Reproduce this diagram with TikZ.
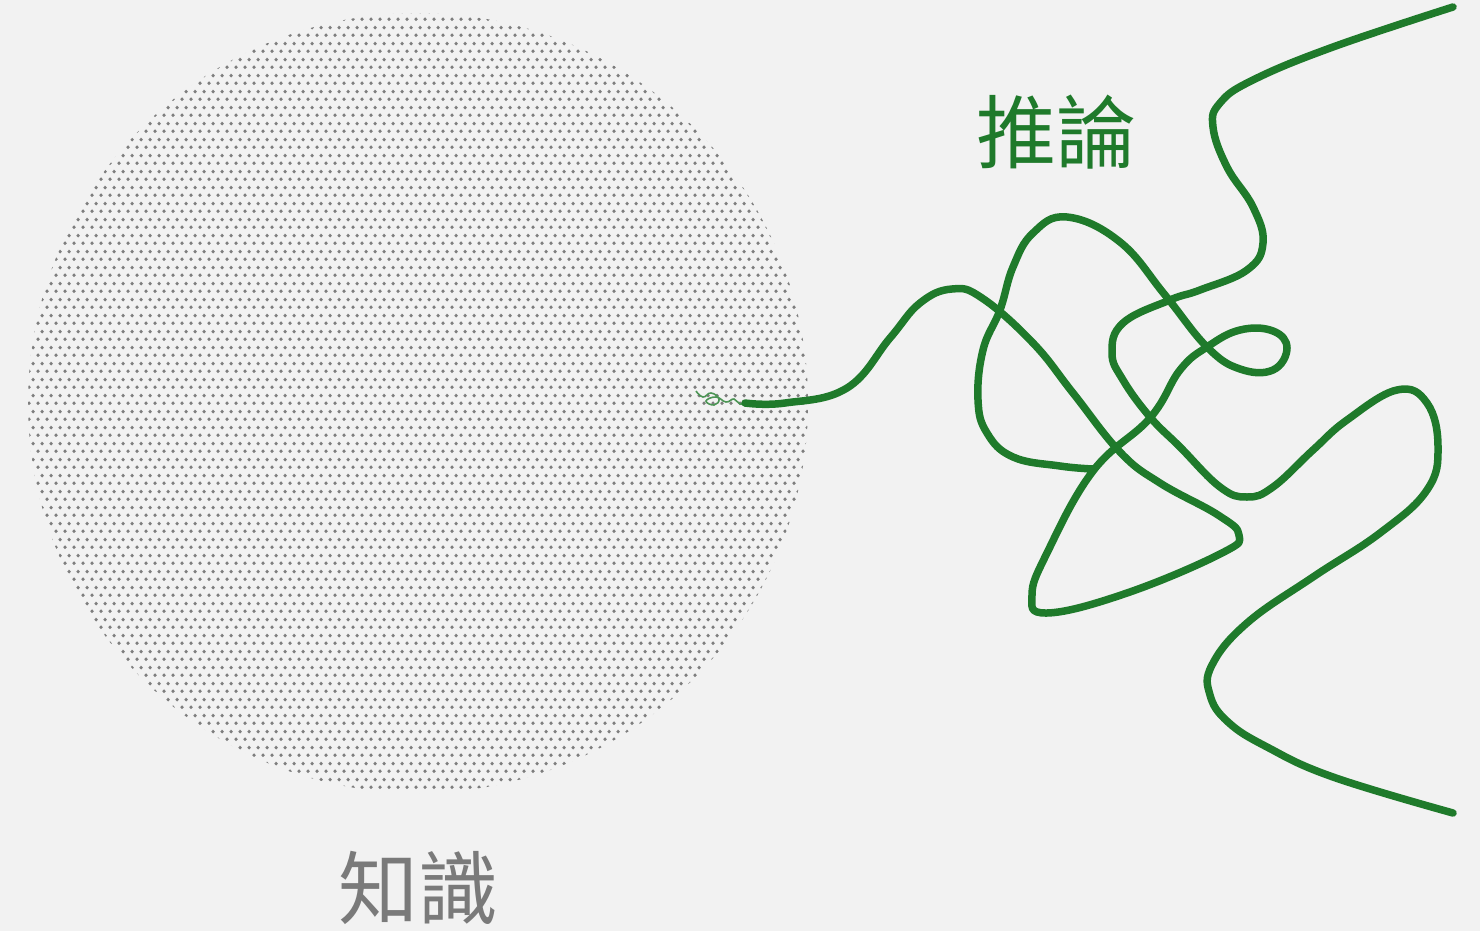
\documentclass[tikz,border=0pt]{standalone}
\usepackage{fontspec}
\newfontfamily\cjk{Noto Sans CJK TC}
\usetikzlibrary{patterns}
\definecolor{bg}{HTML}{F2F2F2}
\definecolor{dotgray}{HTML}{7E7E7E}
\definecolor{curvegreen}{HTML}{1F7A2B}
\definecolor{labelgray}{HTML}{7A7A7A}
\pgfdeclarepatternformonly{hexdots}{\pgfpointorigin}{\pgfpoint{9pt}{15.6pt}}{\pgfpoint{9pt}{15.6pt}}{%
  \pgfpathcircle{\pgfpoint{2.25pt}{3.9pt}}{2.0pt}%
  \pgfpathcircle{\pgfpoint{6.75pt}{11.7pt}}{2.0pt}%
  \pgfusepath{fill}%
}
\tikzset{
  thread/.style={draw=curvegreen, line width=7.5pt, line cap=round, line join=round},
  label/.style={font=\cjk\fontsize{80}{80}\selectfont, inner sep=0pt}
}
\begin{document}
\begin{tikzpicture}[x=1pt,y=-1pt]
\useasboundingbox (0,0) rectangle (1480,931);
\fill[bg] (0,0) rectangle (1480,931);
% knowledge disc
\coordinate (disc) at (418,403);
\fill[pattern=hexdots, pattern color=dotgray] (disc) circle (390);
% labels
\node[label, text=labelgray] (know) at (418,888) {知識};
\node[label, text=curvegreen] (infer) at (1056,132) {推論};
% scribble at the start
\draw[curvegreen!80, line width=1.6pt] plot[smooth, tension=0.8] coordinates {
 (696,391) (703,397) (711,393) (719,399) (714,405) (706,401) (716,397) (726,402) (734,399) (740,404) (748,402)};
% thread 1
\draw[thread] plot[smooth, tension=0.7] coordinates {
 (745,403) (785,403) (847,388) (890,338) (920,303) (952,289) (982,298)
 (1033,343) (1073,393) (1120,452) (1160,483) (1218,515) (1239,535) (1222,553)
 (1127,593) (1047,613) (1032,595) (1047,553) (1093,471) (1150,418)
 (1180,370) (1207,347) (1240,330) (1273,331) (1287,348) (1273,370) (1240,369)
 (1207,347) (1165,295) (1120,242) (1067,217) (1033,233) (1013,267)
 (1000,310) (983,350) (978,400) (987,433) (1013,457) (1060,466) (1093,469)};
% thread 2
\draw[thread] plot[smooth, tension=0.7] coordinates {
 (1453,7) (1333,47) (1253,80) (1220,103) (1213,127) (1227,167) (1253,207)
 (1263,243) (1247,270) (1200,290) (1170,300) (1123,323) (1112,353) (1123,380)
 (1150,417) (1180,447) (1220,487) (1247,497) (1273,487) (1313,450) (1347,420)
 (1397,390) (1427,403) (1438,447) (1427,490) (1380,533) (1313,577) (1247,623)
 (1212,665) (1210,695) (1228,722) (1267,747) (1333,777) (1453,813)};
\end{tikzpicture}
\end{document}
